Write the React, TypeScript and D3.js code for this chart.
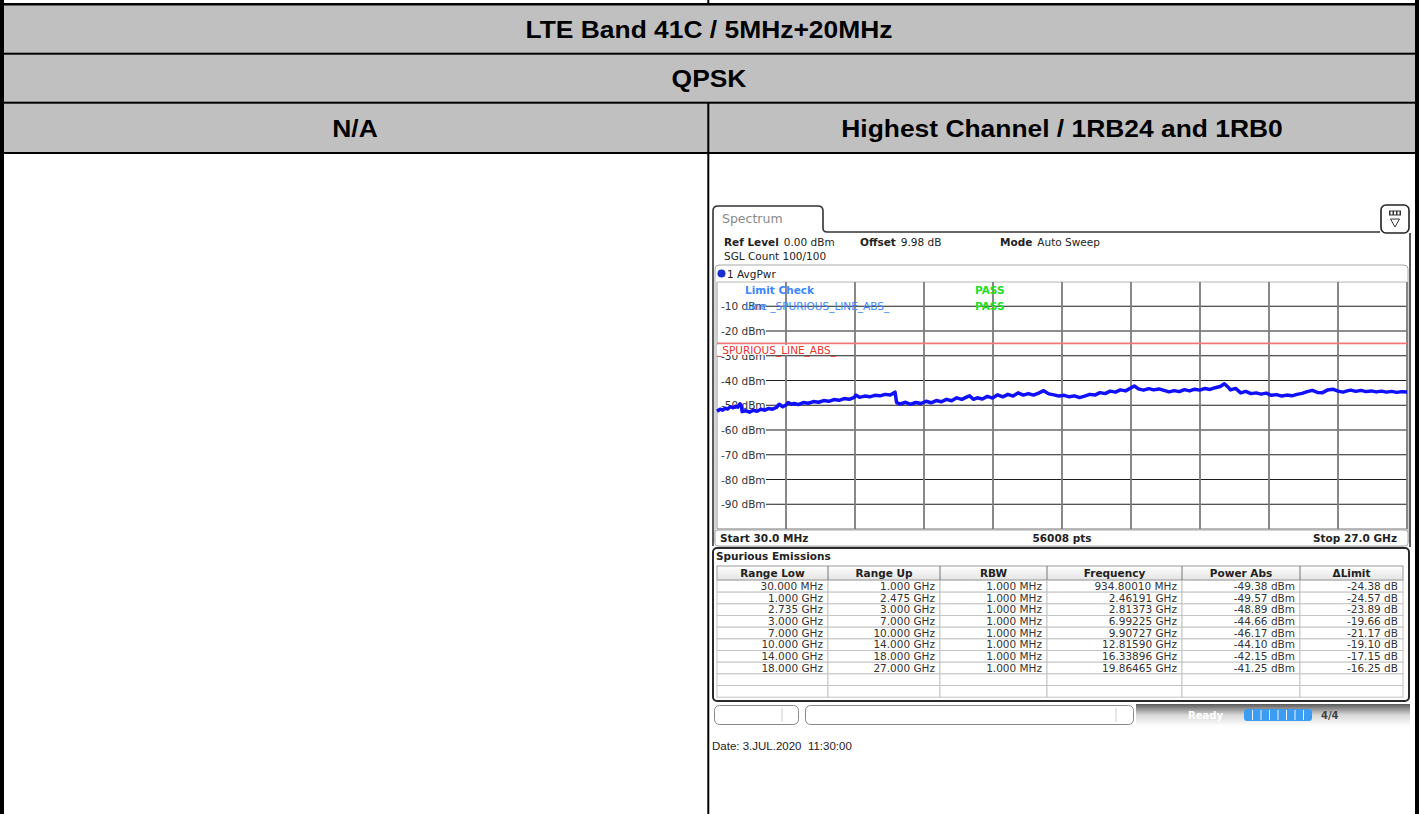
import * as d3 from "d3"

const titleRows = ["LTE Band 41C / 5MHz+20MHz", "QPSK"]
const subTitles = ["N/A", "Highest Channel / 1RB24 and 1RB0"]

const refLine = [
  { k: "Ref Level", v: "0.00 dBm" },
  { k: "Offset", v: "9.98 dB" },
  { k: "Mode", v: "Auto Sweep" },
]

const dbmTicks = [-10, -20, -30, -40, -50, -60, -70, -80, -90]
const limitDbm = -25
const startGHz = 0.03
const stopGHz = 27

// [GHz, dBm]
const trace: [number, number][] = [
  [0.03, -52.4], [0.15, -51.6], [0.25, -52.0], [0.35, -51.2], [0.45, -51.5],
  [0.55, -50.6], [0.65, -51.0], [0.75, -50.4], [0.85, -50.8], [0.93, -49.4],
  [0.99, -50.3], [1.01, -52.6], [1.15, -52.2], [1.3, -52.8], [1.45, -52.0],
  [1.6, -52.4], [1.75, -51.6], [1.9, -52.0], [2.05, -51.3], [2.2, -51.6],
  [2.35, -50.9], [2.46, -49.6], [2.6, -50.6], [2.74, -49.8], [2.81, -48.9],
  [2.95, -49.6], [3.05, -49.3], [3.2, -49.7], [3.4, -48.9], [3.6, -49.2],
  [3.8, -48.5], [4.0, -48.8], [4.2, -48.1], [4.4, -48.4], [4.6, -47.7],
  [4.8, -48.0], [5.0, -47.3], [5.2, -47.6], [5.4, -46.8], [5.45, -45.9],
  [5.6, -46.8], [5.8, -46.3], [6.0, -46.6], [6.2, -46.0], [6.4, -46.2],
  [6.6, -45.6], [6.8, -45.9], [6.99, -44.7], [7.05, -48.9], [7.2, -49.5],
  [7.4, -48.8], [7.6, -49.6], [7.8, -48.9], [8.0, -49.3], [8.2, -48.4],
  [8.4, -49.0], [8.6, -48.1], [8.8, -48.6], [9.0, -47.6], [9.2, -48.2],
  [9.4, -47.0], [9.6, -47.6], [9.8, -46.6], [9.9, -46.2], [10.05, -47.6],
  [10.2, -47.0], [10.4, -47.5], [10.6, -46.4], [10.8, -47.1], [11.0, -45.8],
  [11.2, -46.6], [11.4, -45.6], [11.6, -46.3], [11.8, -45.0], [12.0, -45.9],
  [12.2, -45.3], [12.4, -45.9], [12.6, -45.1], [12.8, -44.1], [13.0, -45.4],
  [13.2, -45.8], [13.4, -46.3], [13.6, -46.0], [13.8, -46.6], [14.0, -46.2],
  [14.2, -46.9], [14.4, -46.3], [14.6, -45.6], [14.8, -45.9], [15.0, -44.9],
  [15.2, -45.3], [15.4, -44.3], [15.6, -44.7], [15.8, -43.8], [16.0, -44.2],
  [16.34, -42.2], [16.5, -43.4], [16.7, -43.9], [16.9, -43.3], [17.1, -43.8],
  [17.3, -43.4], [17.5, -44.0], [17.7, -44.6], [17.9, -44.1], [18.1, -44.5],
  [18.3, -43.7], [18.5, -44.2], [18.7, -43.5], [18.9, -43.9], [19.1, -43.2],
  [19.3, -43.6], [19.5, -42.9], [19.7, -42.4], [19.86, -41.3], [20.0, -42.6],
  [20.1, -43.8], [20.3, -43.2], [20.5, -45.0], [20.7, -44.4], [20.9, -45.3],
  [21.1, -45.0], [21.3, -45.5], [21.5, -45.1], [21.7, -46.0], [21.9, -45.7],
  [22.1, -46.3], [22.3, -45.9], [22.5, -46.2], [22.7, -45.6], [22.9, -45.2],
  [23.1, -44.5], [23.3, -44.0], [23.5, -44.8], [23.7, -44.9], [23.9, -43.8],
  [24.1, -43.5], [24.3, -44.3], [24.5, -44.7], [24.7, -44.1], [24.8, -43.9],
  [25.0, -44.4], [25.2, -44.0], [25.4, -44.5], [25.6, -44.2], [25.8, -44.6],
  [26.0, -44.3], [26.2, -44.7], [26.4, -44.4], [26.6, -44.8], [26.8, -44.5],
  [27.0, -44.6],
]

const colHeads = ["Range Low", "Range Up", "RBW", "Frequency", "Power Abs", "ΔLimit"]
const rangeLow = ["30.000 MHz", "1.000 GHz", "2.735 GHz", "3.000 GHz", "7.000 GHz", "10.000 GHz", "14.000 GHz", "18.000 GHz"]
const rangeUp = ["1.000 GHz", "2.475 GHz", "3.000 GHz", "7.000 GHz", "10.000 GHz", "14.000 GHz", "18.000 GHz", "27.000 GHz"]
const rbw = ["1.000 MHz", "1.000 MHz", "1.000 MHz", "1.000 MHz", "1.000 MHz", "1.000 MHz", "1.000 MHz", "1.000 MHz"]
const peakFreq = ["934.80010 MHz", "2.46191 GHz", "2.81373 GHz", "6.99225 GHz", "9.90727 GHz", "12.81590 GHz", "16.33896 GHz", "19.86465 GHz"]
const powerAbs = [-49.38, -49.57, -48.89, -44.66, -46.17, -44.1, -42.15, -41.25]

const W = 1419
const H = 814
const inst = "'DejaVu Sans', Verdana, sans-serif"
const arial = "'Liberation Sans', Arial, sans-serif"

export default function App() {
  const x = d3.scaleLinear().domain([startGHz, stopGHz]).range([717, 1407])
  const y = d3.scaleLinear().domain([0, -100]).range([281.5, 529])
  const line = d3
    .line<[number, number]>()
    .x((d) => x(d[0]))
    .y((d) => y(d[1]))
  const divs = d3.range(0, 11).map((i) => x(startGHz + (i * (stopGHz - startGHz)) / 10))

  const cols = [717, 828, 940, 1047, 1182, 1300, 1403]
  const rowH = 11.67
  const row0 = 580.5
  const rows = rangeLow.map((_, i) => [
    rangeLow[i],
    rangeUp[i],
    rbw[i],
    peakFreq[i],
    `${powerAbs[i].toFixed(2)} dBm`,
    `${(powerAbs[i] - limitDbm).toFixed(2)} dB`,
  ])

  return (
    <svg width={W} height={H} style={{ position: "absolute", left: 0, top: 0, background: "#fff" }}>
      <defs>
        <linearGradient id="hdr" x1="0" y1="0" x2="0" y2="1">
          <stop offset="0" stopColor="#ffffff" />
          <stop offset="1" stopColor="#e4e4e4" />
        </linearGradient>
        <linearGradient id="stat" x1="0" y1="0" x2="0" y2="1">
          <stop offset="0" stopColor="#5a5a5a" />
          <stop offset="0.5" stopColor="#d8d8d8" />
          <stop offset="1" stopColor="#ffffff" />
        </linearGradient>
      </defs>

      {/* outer report table */}
      <rect x={0} y={5} width={W} height={148} fill="#c0c0c0" />
      <rect x={0} y={3} width={W} height={2.5} fill="#000" />
      <rect x={0} y={52.7} width={W} height={2} fill="#000" />
      <rect x={0} y={101.7} width={W} height={2} fill="#000" />
      <rect x={0} y={152} width={W} height={2} fill="#000" />
      <rect x={0} y={0} width={4} height={H} fill="#000" />
      <rect x={1415} y={0} width={4} height={H} fill="#000" />
      <rect x={707.3} y={0} width={2} height={4} fill="#000" />
      <rect x={707.3} y={103} width={2} height={H - 103} fill="#000" />

      {titleRows.map((t, i) => (
        <text
          key={t}
          transform={`translate(709,${37.7 + i * 49.5}) scale(1.1,1)`}
          textAnchor="middle"
          fontFamily={arial}
          fontWeight={700}
          fontSize={24}
        >
          {t}
        </text>
      ))}
      {subTitles.map((t, i) => (
        <text
          key={t}
          transform={`translate(${i === 0 ? 355 : 1062},137) scale(1.1,1)`}
          textAnchor="middle"
          fontFamily={arial}
          fontWeight={700}
          fontSize={24}
        >
          {t}
        </text>
      ))}

      {/* instrument screenshot */}
      <g fontFamily={inst} fontSize={10.5} fill="#222">
        <path
          d="M713,546 V211 Q713,206 718,206 H818 Q823,206 823,211 V228 Q823,232 827,232 H1380"
          fill="none"
          stroke="#333"
          strokeWidth={1.6}
        />
        <line x1={1410} x2={1410} y1={233} y2={547} stroke="#333" strokeWidth={1.6} />
        <text x={722} y={223} fontSize={12.5} fill="#8a8a8a">
          Spectrum
        </text>
        <rect x={1381} y={205} width={28} height={28} rx={5} fill="#fff" stroke="#222" strokeWidth={1.6} />
        <rect x={1389} y={210.5} width={12} height={5} fill="#333" />
        {[0, 1, 2].map((i) => (
          <rect key={i} x={1390.5 + i * 3.5} y={211.5} width={2} height={3} fill="#fff" />
        ))}
        <path d="M1390.5,219 H1399.5 L1395,227 Z" fill="none" stroke="#333" strokeWidth={1} />

        {refLine.map((r, i) => (
          <text key={r.k} x={[724, 860, 1000][i]} y={246}>
            <tspan fontWeight={700}>{r.k}</tspan>
            <tspan dx={5}>{r.v}</tspan>
          </text>
        ))}
        <text x={724} y={260}>
          SGL Count 100/100
        </text>

        <rect x={715} y={265} width={693} height={281} rx={4} fill="#fff" stroke="#a8a8a8" />
        <circle cx={721.5} cy={273.5} r={4} fill="#1a2fd0" />
        <text x={727} y={277.5}>
          1 AvgPwr
        </text>

        {/* grid */}
        <line x1={717} x2={1407} y1={282} y2={282} stroke="#b8b8b8" />
        <line x1={717} x2={1407} y1={529} y2={529} stroke="#777" />
        {dbmTicks.map((d) => (
          <line key={d} x1={766} x2={1407} y1={y(d)} y2={y(d)} stroke="#1e1e1e" strokeWidth={1.1} />
        ))}
        {divs.map((v, i) => (
          <line
            key={i}
            x1={v}
            x2={v}
            y1={282}
            y2={529}
            stroke={i === 0 ? "#999" : "#7c7c7c"}
            strokeWidth={i === 0 ? 1 : 1.8}
          />
        ))}
        {dbmTicks.map((d) => (
          <text key={d} x={721} y={y(d) + 4} fill="#333">
            {d} dBm
          </text>
        ))}

        <line x1={717} x2={1407} y1={y(limitDbm)} y2={y(limitDbm)} stroke="#f07878" strokeWidth={1.8} />
        <rect x={717} y={y(limitDbm) + 1.5} width={131} height={10} fill="#fff" />
        <text x={717} y={y(limitDbm) + 11} fill="#e8342c">
          _SPURIOUS_LINE_ABS_
        </text>

        <text x={745} y={293.5} fill="#3d86ff" fontWeight={700}>
          Limit Check
        </text>
        <text x={745} y={309.5} fill="#3d86ff">
          Line _SPURIOUS_LINE_ABS_
        </text>
        <text x={975} y={293.5} fill="#22dd22" fontWeight={700}>
          PASS
        </text>
        <text x={975} y={309.5} fill="#22dd22" fontWeight={700}>
          PASS
        </text>

        <path d={line(trace) ?? ""} fill="none" stroke="#1010ff" strokeWidth={3.5} strokeLinejoin="round" />

        <rect x={715} y={530} width={693} height={16} rx={3} fill="#fff" stroke="#a8a8a8" />
        <text x={720} y={542} fontWeight={700}>
          Start 30.0 MHz
        </text>
        <text x={1062} y={542} fontWeight={700} textAnchor="middle">
          56008 pts
        </text>
        <text x={1397} y={542} fontWeight={700} textAnchor="end">
          Stop 27.0 GHz
        </text>

        {/* spurious emissions table */}
        <rect x={713} y={548} width={696} height={153} rx={4} fill="#fff" stroke="#2a2a2a" strokeWidth={2} />
        <text x={716} y={560} fontWeight={700}>
          Spurious Emissions
        </text>
        <rect x={cols[0]} y={566} width={cols[6] - cols[0]} height={14} fill="url(#hdr)" stroke="#999" />
        {colHeads.map((h, i) => (
          <text key={h} x={(cols[i] + cols[i + 1]) / 2} y={577} textAnchor="middle" fontWeight={700}>
            {h}
          </text>
        ))}
        {d3.range(0, 10).map((r) =>
          d3.range(0, 6).map((c) => (
            <rect
              key={`${r}-${c}`}
              x={cols[c]}
              y={row0 + r * rowH}
              width={cols[c + 1] - cols[c]}
              height={Math.min(rowH, 699.5 - (row0 + r * rowH))}
              fill="#fff"
              stroke="#c4c4c4"
            />
          )),
        )}
        {d3.range(1, 6).map((c) => (
          <line key={c} x1={cols[c]} x2={cols[c]} y1={566} y2={580} stroke="#777" />
        ))}
        {rows.map((r, i) =>
          r.map((cell, c) => (
            <text key={`${i}-${c}`} x={cols[c + 1] - 5} y={row0 + i * rowH + 9.6} textAnchor="end" fill="#333">
              {cell}
            </text>
          )),
        )}

        {/* status bar */}
        <rect x={1136} y={704} width={274} height={22} fill="url(#stat)" />
        <rect x={714.5} y={705.5} width={84} height={19} rx={5} fill="#fff" stroke="#888" />
        <line x1={782} x2={782} y1={708} y2={722} stroke="#ccc" />
        <rect x={805.5} y={705.5} width={328} height={19} rx={5} fill="#fff" stroke="#888" />
        <line x1={1116} x2={1116} y1={708} y2={722} stroke="#ccc" />
        <text x={1188} y={719} fill="#fff" fontWeight={700} fontSize={10}>
          Ready
        </text>
        <rect x={1244} y={709} width={68} height={12} rx={3} fill="#3c9cf2" />
        {d3.range(1, 8).map((i) => (
          <line key={i} x1={1244 + i * 8.5} x2={1244 + i * 8.5} y1={710} y2={720} stroke="#eaf4ff" strokeWidth={1} />
        ))}
        <text x={1321} y={719} fontSize={10} fontWeight={700} fill="#444">
          4/4
        </text>
      </g>

      <text x={712} y={750} fontFamily={arial} fontSize={11.5} fill="#222">
        {"Date: 3.JUL.2020\u00a0 11:30:00"}
      </text>
    </svg>
  )
}
